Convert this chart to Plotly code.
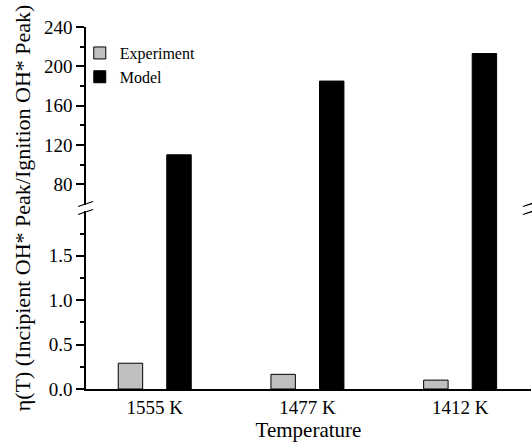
import plotly.graph_objects as go

categories = ["1555 K", "1477 K", "1412 K"]
experiment = [0.29, 0.165, 0.10]
model = [110, 185, 213]

lower_ticks = [0.0, 0.5, 1.0, 1.5]
lower_minor = [0.25, 0.75, 1.25, 1.75]
upper_ticks = [80, 120, 160, 200, 240]
upper_minor = [100, 140, 180, 220]

FONT = "Liberation Serif"
SPLIT = 0.5
lower_range = [0, 2.037]
upper_range = [55.9, 240]
cat_range = [-0.45, 2.464]
minor_x_range = [-0.538, 15.74]

fig = go.Figure()

fig.add_trace(go.Bar(
    x=categories, y=experiment, xaxis="x", yaxis="y", name="Experiment",
    width=0.16, offset=-0.239,
    marker=dict(color="#c0c0c0", line=dict(color="black", width=1)),
))
fig.add_trace(go.Bar(
    x=categories, y=model, xaxis="x", yaxis="y", name="Model", showlegend=False,
    width=0.16, offset=0.079,
    marker=dict(color="black", line=dict(color="black", width=1)),
))
fig.add_trace(go.Bar(
    x=categories, y=model, xaxis="x", yaxis="y2", name="Model",
    width=0.16, offset=0.079,
    marker=dict(color="black", line=dict(color="black", width=1)),
))

tickfont = dict(family=FONT, size=19, color="black")

fig.update_layout(
    width=532, height=444,
    margin=dict(l=86, r=1, t=27, b=55),
    paper_bgcolor="white", plot_bgcolor="white",
    barmode="overlay",
    font=dict(family=FONT, color="black"),
    xaxis=dict(
        domain=[0, 1], anchor="y", type="category", range=cat_range,
        showline=True, linecolor="black", linewidth=1.5, ticks="",
        tickfont=tickfont, showgrid=False, zeroline=False,
        title=dict(text="Temperature", font=dict(family=FONT, size=21), standoff=6),
    ),
    xaxis2=dict(
        domain=[0, 1], anchor="y2", side="top", range=minor_x_range,
        tick0=0, dtick=1, ticks="inside", ticklen=3, tickwidth=1.2, tickcolor="#333",
        showticklabels=False, showline=True, linecolor="#333", linewidth=1.5,
        showgrid=False, zeroline=False,
    ),
    xaxis3=dict(
        overlaying="x", anchor="y", range=minor_x_range,
        tick0=0, dtick=1, ticks="inside", ticklen=3, tickwidth=1.2, tickcolor="#333",
        showticklabels=False, showline=False, showgrid=False, zeroline=False,
    ),
    yaxis=dict(
        domain=[0, SPLIT], anchor="x", range=lower_range,
        tickvals=lower_ticks, tickformat=".1f", ticks="outside", ticklen=8, tickwidth=1.5,
        tickcolor="black",
        minor=dict(tickvals=lower_minor, ticks="outside", ticklen=4, tickwidth=1.5, tickcolor="black"),
        showline=True, linecolor="black", linewidth=1.5, tickfont=tickfont,
        showgrid=False, zeroline=False,
    ),
    yaxis2=dict(
        domain=[SPLIT, 1], anchor="x", range=upper_range,
        tickvals=upper_ticks, ticks="outside", ticklen=8, tickwidth=1.5, tickcolor="black",
        minor=dict(tickvals=upper_minor, ticks="outside", ticklen=4, tickwidth=1.5, tickcolor="black"),
        showline=True, linecolor="black", linewidth=1.5, tickfont=tickfont,
        showgrid=False, zeroline=False,
    ),
    yaxis3=dict(
        overlaying="y", side="right", anchor="x", range=lower_range,
        tickvals=lower_ticks, ticks="inside", ticklen=5, tickwidth=1.5, tickcolor="black",
        minor=dict(tickvals=lower_minor, ticks="inside", ticklen=5, tickwidth=1.5, tickcolor="black"),
        showticklabels=False, showline=True, linecolor="black", linewidth=1.5,
        showgrid=False, zeroline=False,
    ),
    yaxis4=dict(
        overlaying="y2", side="right", anchor="x", range=upper_range,
        tickvals=upper_ticks, ticks="inside", ticklen=5, tickwidth=1.5, tickcolor="black",
        minor=dict(tickvals=upper_minor, ticks="inside", ticklen=5, tickwidth=1.5, tickcolor="black"),
        showticklabels=False, showline=True, linecolor="black", linewidth=1.5,
        showgrid=False, zeroline=False,
    ),
    legend=dict(
        x=-0.014, y=0.975, xanchor="left", yanchor="top",
        bgcolor="rgba(0,0,0,0)", font=dict(family=FONT, size=16, color="black"),
        itemwidth=30, tracegroupgap=0,
    ),
    showlegend=True,
)

fig.add_annotation(
    text="η(T) (Incipient OH* Peak/Ignition OH* Peak)",
    xref="paper", yref="paper", x=-0.143, y=0.5, xanchor="center", yanchor="middle",
    textangle=-90, showarrow=False, font=dict(family=FONT, size=22, color="black"),
)

# axis break marks on both spines
for xa in (0, 1):
    fig.add_shape(type="rect", xref="paper", yref="paper",
                  xsizemode="pixel", ysizemode="pixel", xanchor=xa, yanchor=SPLIT,
                  x0=-3, x1=3, y0=-3, y1=3, fillcolor="white", line=dict(width=0))
    for dy in (-4, 4):
        fig.add_shape(type="line", xref="paper", yref="paper",
                      xsizemode="pixel", ysizemode="pixel", xanchor=xa, yanchor=SPLIT,
                      x0=-8, x1=7, y0=dy - 2.5, y1=dy + 2.5,
                      line=dict(color="black", width=1.3))

fig.write_html("out.html")
